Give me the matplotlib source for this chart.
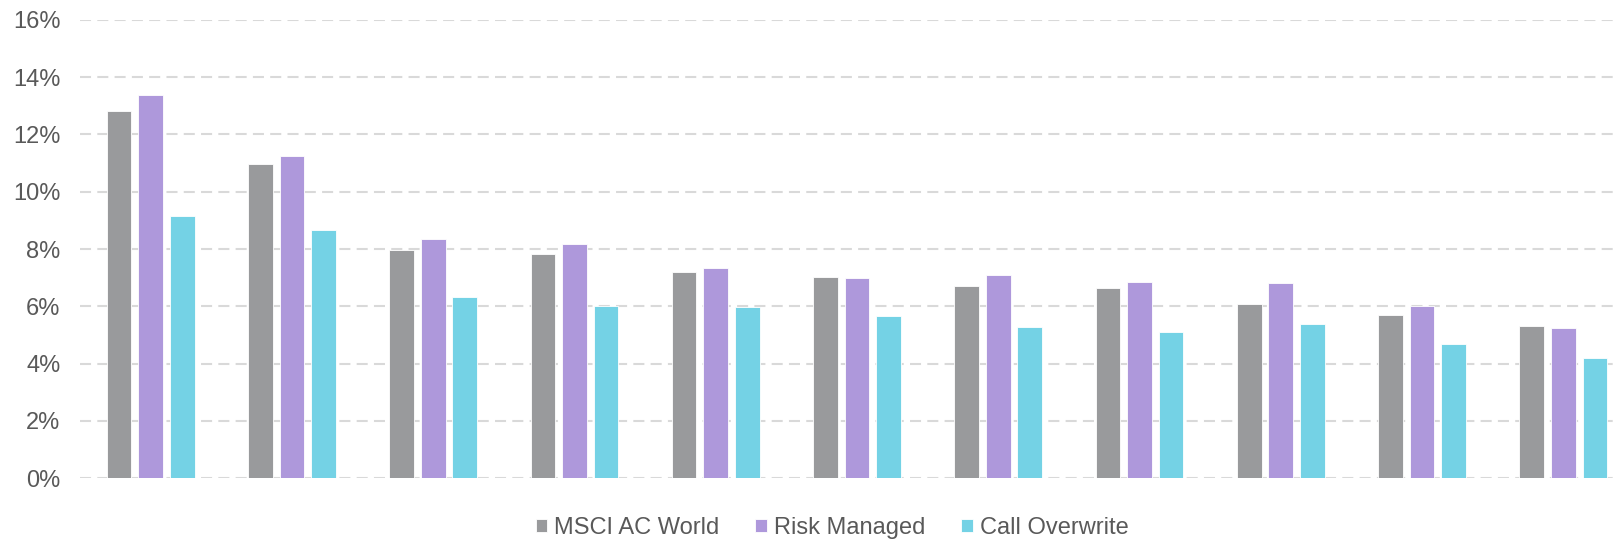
import numpy as np
import matplotlib.pyplot as plt

plt.rcParams['font.family'] = ['Liberation Sans', 'DejaVu Sans']

# annualised return by bucket
series = ["MSCI AC World", "Risk Managed", "Call Overwrite"]
msci = [12.82, 10.97, 7.96, 7.81, 7.20, 7.01, 6.72, 6.64, 6.08, 5.69, 5.30]
risk_managed = [13.37, 11.24, 8.36, 8.17, 7.35, 6.98, 7.08, 6.85, 6.80, 6.01, 5.24]
call_overwrite = [9.15, 8.66, 6.33, 6.01, 5.98, 5.67, 5.28, 5.12, 5.37, 4.69, 4.21]
colors = ["#999a9c", "#ae98db", "#74d2e5"]
yticks = [0, 2, 4, 6, 8, 10, 12, 14, 16]

W, H = 1616, 541
fig = plt.figure(figsize=(W / 100, H / 100), dpi=100)
left = 80 / W
bottom = (H - 478.3) / H
top = (H - 19.7) / H
ax = fig.add_axes([left, bottom, 1 - left, top - bottom])

x = np.arange(len(msci))
step = 0.2236
width = 0.175
for i, (vals, name, c) in enumerate(zip([msci, risk_managed, call_overwrite], series, colors)):
    ax.bar(x + (i - 1) * step, vals, width, color=c, label=name,
           edgecolor="white", linewidth=0.6, zorder=3)

ax.set_xlim(-0.5, -0.5 + (W - 79.7) / 141.3)
ax.set_ylim(0, 16)
ax.set_yticks(yticks)
ax.set_yticklabels([f"{t}%" for t in yticks])
ax.set_xticks([])
ax.tick_params(axis="y", length=0, pad=14, labelsize=17, labelcolor="#595959")
for s in ax.spines.values():
    s.set_visible(False)
ax.yaxis.grid(True, color="#d9d9d9", linewidth=1.5, dashes=(5.3, 3), zorder=0)
ax.set_axisbelow(True)

fig.legend(loc="center", bbox_to_anchor=(832 / W, 1 - 528 / H), ncol=3,
           frameon=False, fontsize=17, handlelength=0.5, handleheight=0.5,
           handletextpad=0.3, columnspacing=1.5, labelcolor="#595959",
           borderaxespad=0, borderpad=0)

fig.savefig("out.png", dpi=100)
